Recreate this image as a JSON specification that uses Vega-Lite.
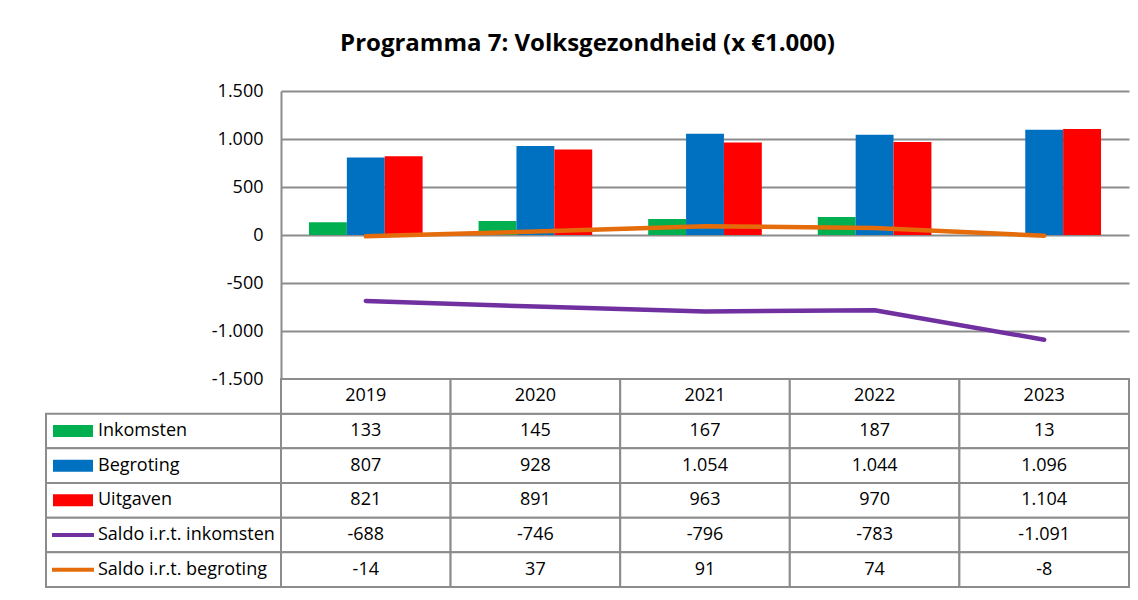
{
  "$schema": "https://vega.github.io/schema/vega-lite/v6.json",
  "padding": {"left": 45, "top": 32, "right": 10, "bottom": 5},
  "background": "white",
  "title": {"text": "Programma 7: Volksgezondheid (x €1.000)", "font": "Open Sans", "fontSize": 24, "fontWeight": "bold", "color": "black", "anchor": "middle", "offset": 26},
  "config": {
    "font": "Open Sans",
    "view": {"stroke": null},
    "locale": {"number": {"decimal": ",", "thousands": ".", "grouping": [3], "currency": ["€", ""], "minus": "-"}}
  },
  "datasets": {
    "vals": [
      {"year": "2019", "series": "Inkomsten", "kind": "bar", "value": 133},
      {"year": "2019", "series": "Begroting", "kind": "bar", "value": 807},
      {"year": "2019", "series": "Uitgaven", "kind": "bar", "value": 821},
      {"year": "2019", "series": "Saldo i.r.t. inkomsten", "kind": "line", "value": -688},
      {"year": "2019", "series": "Saldo i.r.t. begroting", "kind": "line", "value": -14},
      {"year": "2020", "series": "Inkomsten", "kind": "bar", "value": 145},
      {"year": "2020", "series": "Begroting", "kind": "bar", "value": 928},
      {"year": "2020", "series": "Uitgaven", "kind": "bar", "value": 891},
      {"year": "2020", "series": "Saldo i.r.t. inkomsten", "kind": "line", "value": -746},
      {"year": "2020", "series": "Saldo i.r.t. begroting", "kind": "line", "value": 37},
      {"year": "2021", "series": "Inkomsten", "kind": "bar", "value": 167},
      {"year": "2021", "series": "Begroting", "kind": "bar", "value": 1054},
      {"year": "2021", "series": "Uitgaven", "kind": "bar", "value": 963},
      {"year": "2021", "series": "Saldo i.r.t. inkomsten", "kind": "line", "value": -796},
      {"year": "2021", "series": "Saldo i.r.t. begroting", "kind": "line", "value": 91},
      {"year": "2022", "series": "Inkomsten", "kind": "bar", "value": 187},
      {"year": "2022", "series": "Begroting", "kind": "bar", "value": 1044},
      {"year": "2022", "series": "Uitgaven", "kind": "bar", "value": 970},
      {"year": "2022", "series": "Saldo i.r.t. inkomsten", "kind": "line", "value": -783},
      {"year": "2022", "series": "Saldo i.r.t. begroting", "kind": "line", "value": 74},
      {"year": "2023", "series": "Inkomsten", "kind": "bar", "value": 13},
      {"year": "2023", "series": "Begroting", "kind": "bar", "value": 1096},
      {"year": "2023", "series": "Uitgaven", "kind": "bar", "value": 1104},
      {"year": "2023", "series": "Saldo i.r.t. inkomsten", "kind": "line", "value": -1091},
      {"year": "2023", "series": "Saldo i.r.t. begroting", "kind": "line", "value": -8}
    ],
    "series": [
      {"series": "Inkomsten", "kind": "bar"},
      {"series": "Begroting", "kind": "bar"},
      {"series": "Uitgaven", "kind": "bar"},
      {"series": "Saldo i.r.t. inkomsten", "kind": "line"},
      {"series": "Saldo i.r.t. begroting", "kind": "line"}
    ],
    "years": [
      {"year": "2019"}, {"year": "2020"}, {"year": "2021"}, {"year": "2022"}, {"year": "2023"}
    ]
  },
  "spacing": 0,
  "columns": 2,
  "bounds": "flush",
  "concat": [
    {
      "width": 235,
      "height": 288,
      "data": {"values": [{"t": ""}]},
      "mark": {"type": "text"},
      "encoding": {"text": {"field": "t"}}
    },
    {
      "width": 848,
      "height": 288,
      "data": {"name": "vals"},
      "encoding": {
        "x": {"field": "year", "type": "nominal", "axis": null, "scale": {"paddingInner": 0.33, "paddingOuter": 0.165}},
        "y": {
          "field": "value", "type": "quantitative",
          "scale": {"domain": [-1500, 1500], "nice": false, "zero": false},
          "axis": {
            "title": null, "values": [-1500, -1000, -500, 0, 500, 1000, 1500],
            "format": ",d", "ticks": false, "labelPadding": 18, "labelFontSize": 18, "labelColor": "black",
            "labelFont": "Open Sans", "grid": true, "gridColor": "#8c8c8c", "gridWidth": 2,
            "domain": true, "domainColor": "#8c8c8c", "domainWidth": 2
          }
        },
        "color": {
          "field": "series", "type": "nominal", "legend": null,
          "scale": {
            "domain": ["Inkomsten", "Begroting", "Uitgaven", "Saldo i.r.t. inkomsten", "Saldo i.r.t. begroting"],
            "range": ["#00B050", "#0070C0", "#FF0000", "#7030A0", "#E46C0A"]
          }
        }
      },
      "layer": [
        {
          "transform": [{"filter": "datum.kind === 'bar'"}],
          "mark": {"type": "bar"},
          "encoding": {
            "xOffset": {"field": "series", "type": "nominal", "scale": {"domain": ["Inkomsten", "Begroting", "Uitgaven"], "paddingInner": 0, "paddingOuter": 0}}
          }
        },
        {
          "transform": [{"filter": "datum.kind === 'line'"}],
          "mark": {"type": "line", "strokeWidth": 4.5, "strokeCap": "round", "strokeJoin": "round"},
          "encoding": {
            "x": {"field": "year", "type": "nominal", "bandPosition": 0.5}
          }
        }
      ]
    },
    {
      "width": 235,
      "height": 208,
      "data": {"name": "series"},
      "encoding": {
        "y": {
          "field": "series", "type": "nominal", "axis": null,
          "scale": {"domain": ["header", "Inkomsten", "Begroting", "Uitgaven", "Saldo i.r.t. inkomsten", "Saldo i.r.t. begroting"], "paddingInner": 0, "paddingOuter": 0}
        }
      },
      "layer": [
        {
          "mark": {"type": "rect", "fill": "white", "stroke": "#8c8c8c", "strokeWidth": 2}
        },
        {
          "mark": {"type": "point", "filled": true, "opacity": 1, "size": 1600},
          "encoding": {
            "x": {"datum": "key", "type": "nominal", "axis": null, "scale": {"type": "point", "domain": ["key", "label"], "range": [27, 52], "padding": 0}},
            "shape": {"field": "kind", "type": "nominal", "legend": null, "scale": {"domain": ["bar", "line"], "range": ["M-1,-0.3H1V0.3H-1Z", "M-1.05,-0.1H1.05V0.1H-1.05Z"]}},
            "color": {
              "field": "series", "type": "nominal", "legend": null,
              "scale": {
                "domain": ["Inkomsten", "Begroting", "Uitgaven", "Saldo i.r.t. inkomsten", "Saldo i.r.t. begroting"],
                "range": ["#00B050", "#0070C0", "#FF0000", "#7030A0", "#E46C0A"]
              }
            }
          }
        },
        {
          "mark": {"type": "text", "align": "left", "baseline": "middle", "fontSize": 18, "color": "black", "font": "Open Sans"},
          "encoding": {
            "x": {"datum": "label", "type": "nominal", "axis": null, "scale": {"type": "point", "domain": ["key", "label"], "range": [27, 52], "padding": 0}},
            "text": {"field": "series"}
          }
        }
      ]
    },
    {
      "width": 848,
      "height": 208,
      "encoding": {
        "x": {"field": "year", "type": "nominal", "axis": null, "scale": {"paddingInner": 0, "paddingOuter": 0}},
        "y": {
          "field": "series", "type": "nominal", "axis": null,
          "scale": {"domain": ["header", "Inkomsten", "Begroting", "Uitgaven", "Saldo i.r.t. inkomsten", "Saldo i.r.t. begroting"], "paddingInner": 0, "paddingOuter": 0}
        }
      },
      "layer": [
        {
          "data": {"name": "vals"},
          "mark": {"type": "rect", "fill": "white", "stroke": "#8c8c8c", "strokeWidth": 2}
        },
        {
          "data": {"name": "years"},
          "mark": {"type": "rect", "fill": "white", "stroke": "#8c8c8c", "strokeWidth": 2},
          "encoding": {"y": {"datum": "header"}}
        },
        {
          "data": {"name": "vals"},
          "mark": {"type": "text", "align": "center", "baseline": "middle", "fontSize": 18, "color": "black", "font": "Open Sans"},
          "encoding": {"text": {"field": "value", "type": "quantitative", "format": ",d"}}
        },
        {
          "data": {"name": "years"},
          "mark": {"type": "text", "align": "center", "baseline": "middle", "fontSize": 18, "color": "black", "font": "Open Sans"},
          "encoding": {"y": {"datum": "header"}, "text": {"field": "year"}}
        }
      ]
    }
  ]
}
